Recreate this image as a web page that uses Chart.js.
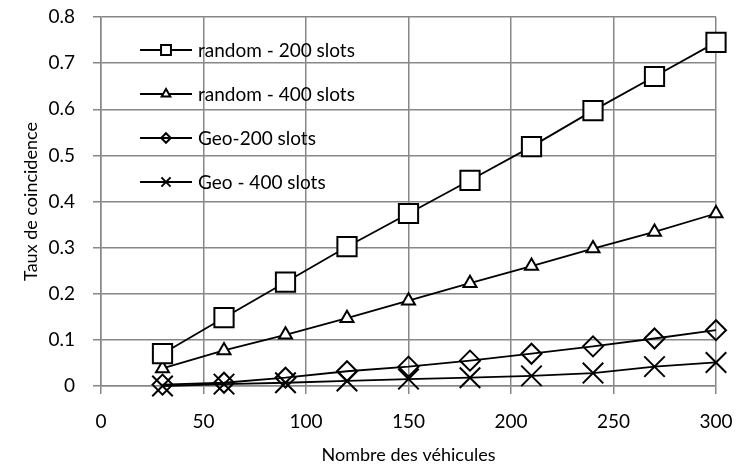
<!DOCTYPE html>
<html>
<head>
<meta charset="utf-8">
<script src="https://cdn.jsdelivr.net/npm/chart.js@4/dist/chart.umd.min.js"></script>
<style>
  body { margin: 0; background: #fff; }
  #wrap { position: relative; width: 740px; height: 469px; }
</style>
</head>
<body>
<div id="wrap"><canvas id="chart"></canvas></div>
<script>
// data
const vehicles = [30, 60, 90, 120, 150, 180, 210, 240, 270, 300];
const random200 = [0.070, 0.148, 0.225, 0.302, 0.374, 0.446, 0.519, 0.597, 0.671, 0.745];
const random400 = [0.038, 0.077, 0.111, 0.147, 0.185, 0.223, 0.260, 0.298, 0.334, 0.374];
const geo200    = [0.003, 0.007, 0.018, 0.032, 0.042, 0.055, 0.070, 0.086, 0.103, 0.121];
const geo400    = [0.000, 0.004, 0.007, 0.011, 0.015, 0.018, 0.022, 0.028, 0.042, 0.051];

const seriesNames = ["random - 200 slots", "random - 400 slots", "Geo-200 slots", "Geo - 400 slots"];
const xTickLabels = ["0", "50", "100", "150", "200", "250", "300"];
const yTickLabels = ["0", "0.1", "0.2", "0.3", "0.4", "0.5", "0.6", "0.7", "0.8"];

const GRID = "#878787";
Chart.defaults.font.family = "Lato, 'Open Sans', sans-serif";
Chart.defaults.color = "#000";

function pts(values) {
    return values.map((v, i) => ({ x: vehicles[i], y: v }));
}

// marker styles: chart size and legend size
const markers = [
    { style: "rect",     radius: 13.6, legendRadius: 7,   fill: "#fff" },
    { style: "triangle", radius: 7.5,  legendRadius: 5,   fill: "#fff" },
    { style: "rectRot",  radius: 10,   legendRadius: 4.8, fill: "rgba(0,0,0,0)" },
    { style: "crossRot", radius: 14.5, legendRadius: 6.5, fill: "rgba(0,0,0,0)" }
];

function makeSet(label, values, m) {
    return {
        label: label,
        data: pts(values),
        borderColor: "#000",
        borderWidth: 1.8,
        tension: 0,
        fill: false,
        clip: false,
        pointStyle: m.style,
        pointRadius: m.radius,
        pointHoverRadius: m.radius,
        pointBackgroundColor: m.fill,
        pointBorderColor: "#000",
        pointBorderWidth: 2
    };
}

// legend drawn inside the plot, line + marker + text
const insideLegend = {
    id: "insideLegend",
    afterDatasetsDraw(chart) {
        const ctx = chart.ctx;
        const area = chart.chartArea;
        const x0 = area.left + 39, x1 = area.left + 91;
        const rows = [33, 77, 121, 165];
        ctx.save();
        chart.data.datasets.forEach((ds, i) => {
            const y = area.top + rows[i];
            const m = markers[i];
            ctx.strokeStyle = "#000";
            ctx.lineWidth = 2;
            ctx.beginPath();
            ctx.moveTo(x0, y);
            ctx.lineTo(x1, y);
            ctx.stroke();
            ctx.fillStyle = m.fill;
            Chart.helpers.drawPoint(ctx, {
                pointStyle: m.style,
                radius: m.legendRadius,
                borderWidth: 2,
                rotation: 0
            }, (x0 + x1) / 2, y);
            ctx.fillStyle = "#000";
            ctx.font = "19px Lato, 'Open Sans', sans-serif";
            ctx.textAlign = "left";
            ctx.textBaseline = "middle";
            ctx.fillText(ds.label, x1 + 6, y + 1);
        });
        ctx.restore();
    }
};

new Chart(document.getElementById("chart"), {
    type: "line",
    data: {
        datasets: [
            makeSet(seriesNames[0], random200, markers[0]),
            makeSet(seriesNames[1], random400, markers[1]),
            makeSet(seriesNames[2], geo200, markers[2]),
            makeSet(seriesNames[3], geo400, markers[3])
        ]
    },
    options: {
        responsive: true,
        maintainAspectRatio: false,
        animation: false,
        layout: { padding: { top: 17, right: 24, left: 0, bottom: 0 } },
        plugins: {
            legend: { display: false },
            tooltip: { enabled: false }
        },
        scales: {
            x: {
                type: "linear",
                min: 0,
                max: 300,
                afterFit: s => {
                    s.height = 83;
                    s.paddingLeft = 0;
                    s.paddingRight = 0;
                },
                ticks: {
                    stepSize: 50,
                    padding: 16,
                    font: { size: 19 },
                    callback: (v, i) => xTickLabels[i]
                },
                grid: { color: GRID, lineWidth: 1.5, tickLength: 8, tickColor: GRID },
                border: { color: GRID, width: 1.5 },
                title: {
                    display: true,
                    text: "Nombre des véhicules",
                    font: { size: 18 },
                    padding: { top: 0, bottom: 3 }
                }
            },
            y: {
                min: 0,
                max: 0.8,
                afterFit: s => {
                    s.width = 101;
                    s.paddingTop = 0;
                    s.paddingBottom = 0;
                },
                ticks: {
                    stepSize: 0.1,
                    padding: 18,
                    font: { size: 19 },
                    callback: (v, i) => yTickLabels[i]
                },
                grid: { color: GRID, lineWidth: 1.5, tickLength: 8, tickColor: GRID },
                border: { color: GRID, width: 1.5 },
                title: {
                    display: true,
                    text: "Taux de coincidence",
                    font: { size: 18 },
                    padding: { top: 20, bottom: 0 }
                }
            }
        }
    },
    plugins: [insideLegend]
});
</script>
</body>
</html>
